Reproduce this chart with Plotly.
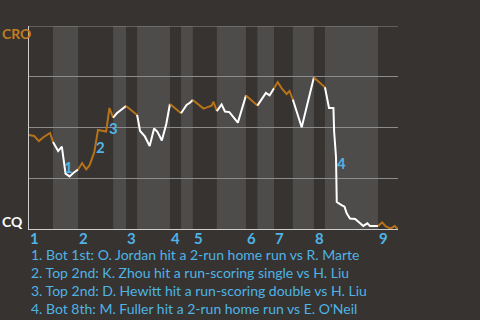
import plotly.graph_objects as go

# Game progress (0-100) and CRO win probability (%)
progress = [0, 1.4, 2.7, 3.9, 5.7, 6.5,
            7.9, 8.9, 9.9, 11.0, 12.0, 13.3,
            14.4, 15.5, 16.4, 17.7, 18.7, 20.9, 21.8, 22.8,
            23.8, 26.3,
            27.4, 29.3,
            30.1, 31.4, 32.7, 33.9, 34.8, 36.0, 37.2, 38.2,
            41.2,
            42.7, 43.6, 44.4,
            47.3, 48.2, 49.5, 50.0, 50.9,
            52.2, 53.1, 54.3, 56.6, 58.8,
            61.9,
            64.2, 65.2, 66.4,
            67.4, 68.5, 69.8, 70.6, 71.5,
            73.9, 77.2,
            79.3, 80.2,
            81.3, 82.5, 82.7, 83.2, 83.4, 84.7, 85.5, 86.1, 87.0, 88.4, 90.6, 91.7, 92.4, 94.6,
            95.7, 96.7, 98.0, 99.1, 100]
cro_win_pct = [46.3, 45.8, 43.3, 45.2, 47.3, 42.9,
               38.4, 40.6, 27.3, 25.9, 27.6, 29.3,
               32.5, 29.4, 31.3, 37.9, 48.8, 48.0, 59.6, 54.9,
               57.0, 60.6,
               59.0, 56.2,
               48.3, 45.6, 40.9, 49.5, 47.9, 43.6, 51.7, 61.6,
               57.0,
               61.1, 62.2, 63.5,
               59.3, 59.9, 60.7, 62.7, 58.1,
               61.4, 57.9, 57.6, 52.4, 65.8,
               60.8,
               67.0, 65.8, 69.3,
               72.3, 69.3, 66.5, 68.0, 63.8,
               50.1, 74.6,
               70.9, 69.8,
               59.6, 59.6, 47.8, 35.5, 13.3, 11.8, 11.0, 7.7, 5.2, 4.9, 1.5, 2.8, 1.5, 1.5,
               3.3, 1.3, 0.2, 1.5, 0.0]

# Half-inning boundaries (top, bottom alternating)
half_bounds = [0, 6.5, 13.3, 22.8, 26.3, 29.3, 38.2, 41.2, 44.4, 50.9,
               58.8, 61.9, 66.4, 71.5, 77.2, 80.2, 94.6, 100]
inning_labels = ["1", "2", "3", "4", "5", "6", "7", "8", "9"]

# Key plays
play_num = ["1", "2", "3", "4"]
play_x = [10.8, 19.5, 23.0, 84.8]
play_y = [30.5, 40.4, 50.0, 32.5]
play_text = [
    "1. Bot 1st: O. Jordan hit a 2-run home run vs R. Marte",
    "2. Top 2nd: K. Zhou hit a run-scoring single vs H. Liu",
    "3. Top 2nd: D. Hewitt hit a run-scoring double vs H. Liu",
    "4. Bot 8th: M. Fuller hit a 2-run home run vs E. O'Neil",
]

BG = "#363330"
STRIPE = "#4e4c4a"
ORANGE = "#b8731a"
BLUE = "#4fb3e6"
FONT = "Lato"

fig = go.Figure()

shapes = []
for i in range(len(half_bounds) - 1):
    if i % 2 == 1:
        shapes.append(dict(type="rect", xref="x", yref="paper",
                           x0=half_bounds[i], x1=half_bounds[i + 1], y0=0, y1=1,
                           fillcolor=STRIPE, line=dict(width=0), layer="below"))
shapes.append(dict(type="line", xref="paper", yref="y", x0=0, x1=1, y0=100, y1=100,
                   line=dict(color="#8c8c8c", width=1), layer="below"))

for i in range(len(half_bounds) - 1):
    a, b = half_bounds[i], half_bounds[i + 1]
    xs = [x for x in progress if a <= x <= b]
    ys = [y for x, y in zip(progress, cro_win_pct) if a <= x <= b]
    fig.add_trace(go.Scatter(x=xs, y=ys, mode="lines",
                             line=dict(color=ORANGE if i % 2 == 0 else "#ffffff", width=2),
                             hoverinfo="skip", showlegend=False))

ann = []
for lbl, x in zip(inning_labels, half_bounds[0::2]):
    ann.append(dict(x=x, y=0, xref="x", yref="paper", text=lbl, showarrow=False,
                    xanchor="left", yanchor="middle", yshift=-9, xshift=0, borderpad=0,
                    font=dict(family=FONT, size=15, color=BLUE, weight="bold")))
for n, x, y in zip(play_num, play_x, play_y):
    ann.append(dict(x=x, y=y, xref="x", yref="y", text=n, showarrow=False, borderpad=0,
                    font=dict(family=FONT, size=15, color=BLUE, weight="bold")))
for k, t in enumerate(play_text):
    ann.append(dict(x=0, y=0, xref="x", yref="paper", text=t, showarrow=False,
                    xanchor="left", yanchor="middle", yshift=-25 - 18 * k, xshift=1,
                    borderpad=0, font=dict(family=FONT, size=14, color=BLUE)))
ann.append(dict(x=0, y=1, xref="paper", yref="paper", text="CRO", showarrow=False,
                xanchor="left", yanchor="middle", xshift=-28, yshift=-7, borderpad=0,
                font=dict(family=FONT, size=14, color="#c17d22", weight="bold")))
ann.append(dict(x=0, y=0, xref="paper", yref="paper", text="CQ", showarrow=False,
                xanchor="left", yanchor="middle", xshift=-28, yshift=8, borderpad=0,
                font=dict(family=FONT, size=14, color="#ffffff", weight="bold")))

fig.update_layout(
    width=480, height=320,
    margin=dict(l=29, r=82, t=26, b=91),
    paper_bgcolor=BG, plot_bgcolor=BG,
    shapes=shapes, annotations=ann,
    xaxis=dict(range=[0, 100], showgrid=False, zeroline=False, showticklabels=False,
               showline=True, linecolor="#cfcfcf", linewidth=1, ticks=""),
    yaxis=dict(range=[0, 100], tickvals=[25, 50, 75], showgrid=True,
               gridcolor="#8c8c8c", gridwidth=1, zeroline=False, showticklabels=False,
               showline=True, linecolor="#cfcfcf", linewidth=1, ticks=""),
)

fig.write_html("out.html")
